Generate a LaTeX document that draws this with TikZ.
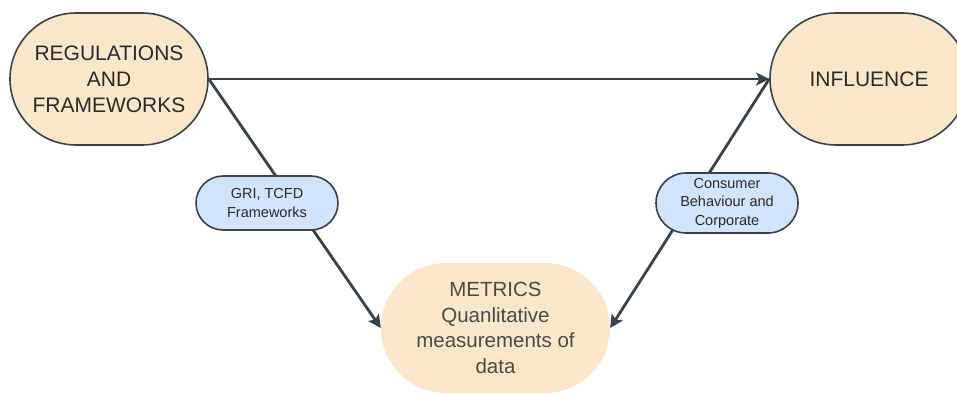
\documentclass[tikz,border=0pt]{standalone}
\usepackage{fontspec}
\setmainfont{Liberation Sans}
\usetikzlibrary{arrows.meta}
\definecolor{peach}{HTML}{FAE6C9}
\definecolor{lblue}{HTML}{D0E4FC}
\definecolor{edge}{HTML}{3A414B}
\definecolor{txt}{HTML}{2B2B2B}
\tikzset{
  bigbox/.style={draw=edge, line width=1.6pt, fill=peach, rounded corners=66pt,
    minimum width=198pt, minimum height=132pt, align=center, text=txt,
    font=\fontsize{21}{26}\selectfont, inner sep=0pt},
  metbox/.style={fill=peach, rounded corners=65pt, minimum width=229pt,
    minimum height=130pt, align=center, text=txt!85,
    font=\fontsize{20.5}{25.5}\selectfont, inner sep=0pt},
  lblbox/.style={draw=edge, line width=1.6pt, fill=lblue, rounded corners=27pt,
    minimum width=142pt, minimum height=54pt, align=center, text=txt,
    font=\fontsize{14.5}{18.5}\selectfont, inner sep=0pt},
  conn/.style={draw=edge, line width=2.8pt},
  arr/.style={conn, -{Stealth[length=13pt,width=13pt,inset=3pt]}}
}
\begin{document}
\begin{tikzpicture}[x=1pt,y=-1pt]
\useasboundingbox (0,0) rectangle (957,393);
\node[bigbox] (reg) at (109,79) {REGULATIONS\\AND\\FRAMEWORKS};
\node[bigbox] (inf) at (869,79) {INFLUENCE};
\node[metbox] (met) at (495.5,328) {METRICS\\Quanlitative\\measurements of\\data};
\draw[arr] (reg.east) -- (inf.west);
\draw[arr] (reg.east) -- (met.west);
\draw[arr] (inf.west) -- (met.east);
\node[lblbox] (gri) at (267,203) {GRI, TCFD\\Frameworks};
\node[lblbox, minimum height=60pt, rounded corners=30pt] (con) at (727,203) {Consumer\\Behaviour and\\Corporate};
\end{tikzpicture}
\end{document}
